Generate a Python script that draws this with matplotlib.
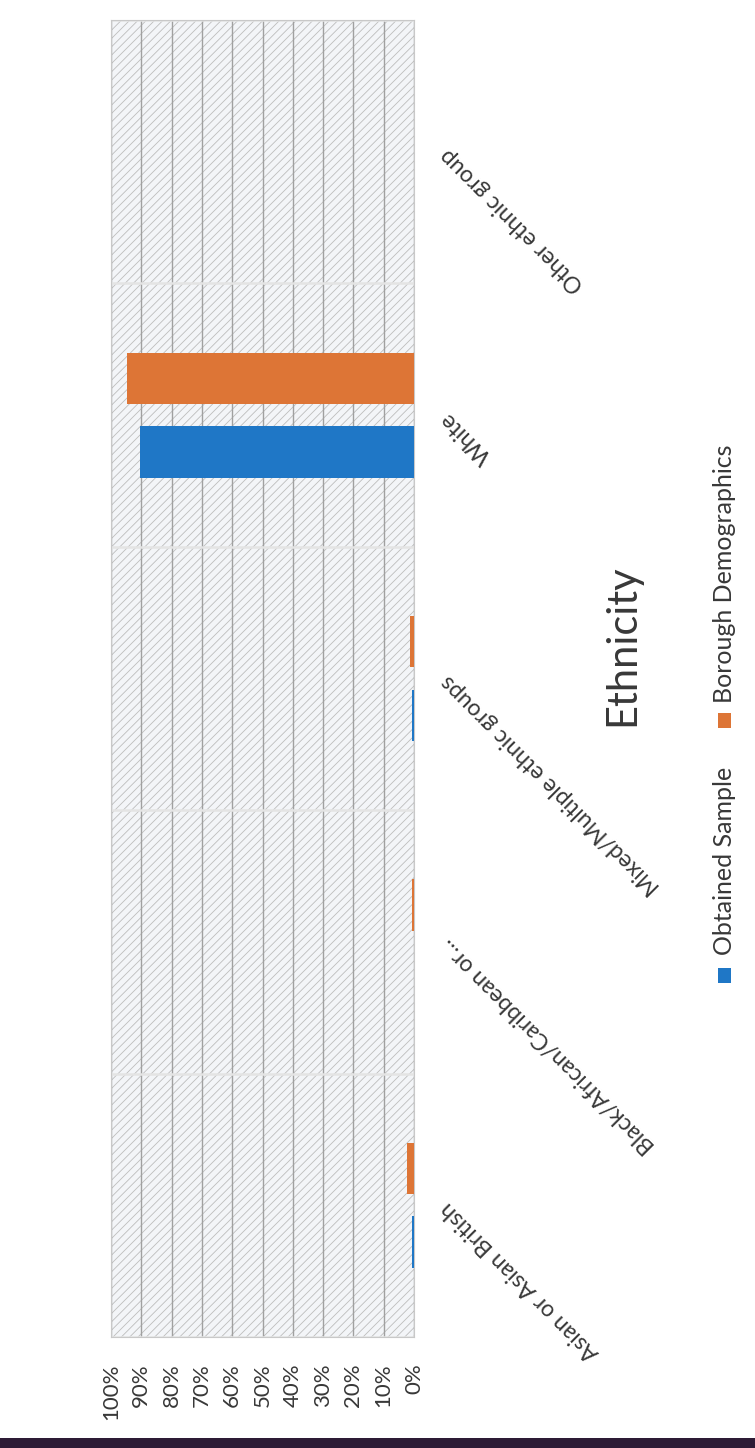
import matplotlib.pyplot as plt
import matplotlib.patches as patches
import matplotlib.transforms as mtransforms
import numpy as np

plt.rcParams['font.family'] = ['Lato', 'DejaVu Sans']
plt.rcParams['hatch.linewidth'] = 0.6

# share of respondents per ethnic group
categories = ["Asian or Asian British", "Black/African/Caribbean or...",
              "Mixed/Multiple ethnic groups", "White", "Other ethnic group"]
obtained = [0.008, 0.0, 0.007, 0.905, 0.0]
borough = [0.024, 0.005, 0.014, 0.947, 0.0]
series_names = ["Obtained Sample", "Borough Demographics"]
series_colors = ["#1f77c6", "#dd7536"]
ticks = [0.0, 0.1, 0.2, 0.3, 0.4, 0.5, 0.6, 0.7, 0.8, 0.9, 1.0]
tick_labels = ["0%", "10%", "20%", "30%", "40%", "50%", "60%", "70%", "80%", "90%", "100%"]

W, H = 755, 1448
fig = plt.figure(figsize=(W / 100, H / 100), dpi=100)
fig.patch.set_facecolor("white")

# plot area (page is turned on its side, value axis runs right -> left)
x0, x1, y0, y1 = 111, 414, 20, 1337
ax = fig.add_axes([x0 / W, 1 - y1 / H, (x1 - x0) / W, (y1 - y0) / H])
ax.set_facecolor("#f3f5f8")
ax.add_patch(patches.Rectangle((0, 0), 1, 1, transform=ax.transAxes,
                               facecolor="#f3f5f8", edgecolor="#bdbdbd",
                               lw=0, hatch="////", zorder=0))

ax.set_xlim(1.0, 0.0)
ax.set_ylim(-0.5, len(categories) - 0.5)

for t in ticks:
    ax.axvline(t, color="#a0a0a0", lw=1, zorder=1)
for b in np.arange(-0.5, len(categories), 1.0):
    ax.axhline(b, color="#e4e4e4", lw=1.8, zorder=1)

y = np.arange(len(categories))
off, bh = 0.14, 0.195
ax.barh(y - off, obtained, height=bh, color=series_colors[0], zorder=3)
ax.barh(y + off, borough, height=bh, color=series_colors[1], zorder=3)

for s in ax.spines.values():
    s.set_color("#c8c8c8")

ax.set_xticks(ticks)
ax.set_xticklabels(tick_labels, rotation=90)
ax.tick_params(axis="x", length=0, pad=19, labelsize=16, labelcolor="#383838")
ax.set_yticks([])

# category labels, angled and ending at their band
trans = mtransforms.blended_transform_factory(ax.transAxes, ax.transData)
for i, name in enumerate(categories):
    ax.text(1.10, i, name, transform=trans, rotation=135, rotation_mode="anchor",
            ha="right", va="center", fontsize=16.5, color="#383838")

fig.text(622 / W, 1 - 645 / H, "Ethnicity", rotation=90, ha="center", va="center",
         fontsize=30, color="#383838")

# legend, drawn on its side
lx = 725
entries = [(983, 955), (728, 703)]
for (sq_bottom, txt_bottom), name, col in zip(entries, series_names, series_colors):
    fig.patches.append(patches.Rectangle(((lx - 7) / W, 1 - sq_bottom / H), 13 / W, 15 / H,
                                         transform=fig.transFigure, facecolor=col,
                                         edgecolor="none"))
    fig.text(lx / W, 1 - txt_bottom / H, name, rotation=90, ha="center", va="bottom",
             fontsize=18, color="#383838")

# dark edge of the scanned page
fig.patches.append(patches.Rectangle((0, 0), 1, 10 / H, transform=fig.transFigure,
                                     facecolor="#2d1b35", edgecolor="none"))

fig.savefig("out.png", dpi=100)
